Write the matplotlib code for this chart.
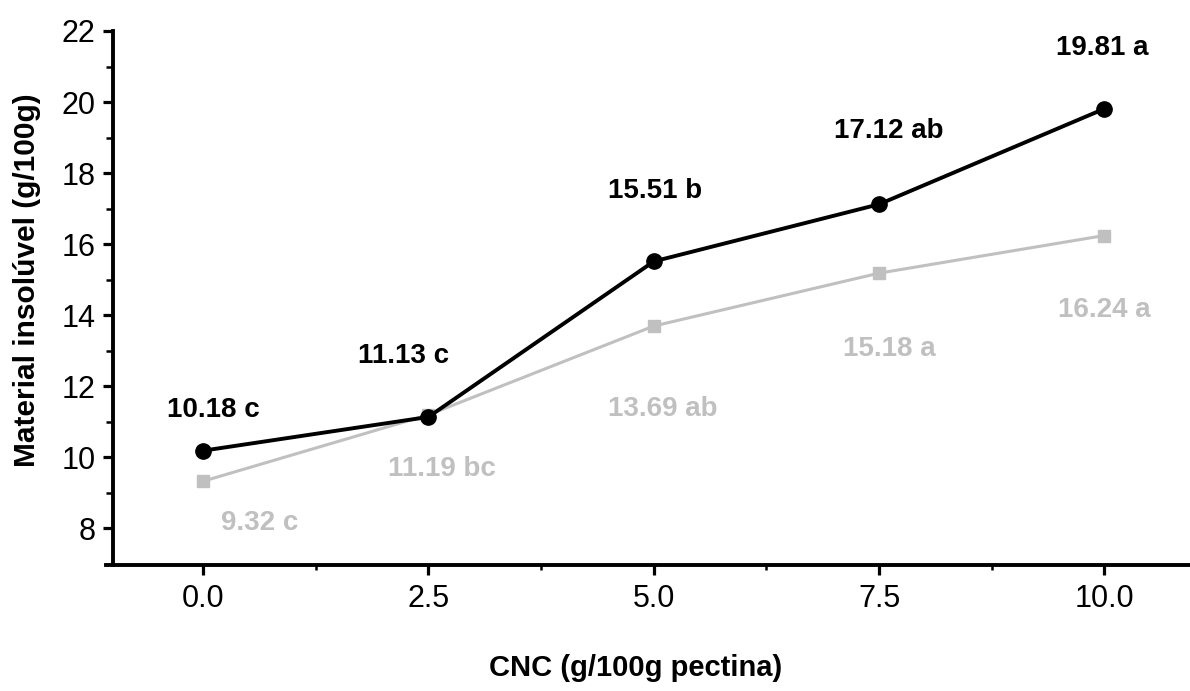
import matplotlib
matplotlib.use("Agg")
import matplotlib.pyplot as plt
from matplotlib.ticker import FixedLocator

plt.rcParams['font.family'] = ['Liberation Sans', 'DejaVu Sans']

# CNC concentration (g/100g pectin)
cnc = [0.0, 2.5, 5.0, 7.5, 10.0]

# Insoluble material (g/100g) for the two series
black_vals = [10.18, 11.13, 15.51, 17.12, 19.81]
black_letters = ["c", "c", "b", "ab", "a"]
gray_vals = [9.32, 11.19, 13.69, 15.18, 16.24]
gray_letters = ["c", "bc", "ab", "a", "a"]

# Label offsets in pixels relative to each point
black_offsets = [(10, 41), (-25, 61), (1, 70), (10, 73), (-2, 61)]
gray_offsets = [(57, -42), (13, -54), (9, -83), (10, -76), (0, -74)]

fig = plt.figure(figsize=(11.9, 6.91), dpi=100)
W, H = 1190, 691
x0, x1 = 106, 1190
y_top, y_bot = 31, 565
ax = fig.add_axes([x0 / W, 1 - y_bot / H, (x1 - x0) / W, (y_bot - y_top) / H])

gray_col = "#c0c0c0"
ax.plot(cnc, gray_vals, color=gray_col, lw=2.2, marker="s", ms=9,
        markeredgecolor=gray_col, zorder=2, clip_on=False)
ax.plot(cnc, black_vals, color="black", lw=2.8, marker="o", ms=11,
        zorder=3, clip_on=False)

for x, v, l, (dx, dy) in zip(cnc, black_vals, black_letters, black_offsets):
    ax.annotate(f"{v:.2f} {l}", (x, v), xytext=(dx, dy),
                textcoords="offset pixels", ha="center", va="center",
                fontsize=20, fontweight="bold", color="black")
for x, v, l, (dx, dy) in zip(cnc, gray_vals, gray_letters, gray_offsets):
    ax.annotate(f"{v:.2f} {l}", (x, v), xytext=(dx, dy),
                textcoords="offset pixels", ha="center", va="center",
                fontsize=20, fontweight="bold", color=gray_col)

# x range: left spine sits 7 px inside the axes at x = -1.0
px_per_x = 90.1
ax.set_xlim(-1.0 - 7 / px_per_x, 10.95)
ax.set_ylim(6.96, 22)
ax.spines["left"].set_position(("data", -1.0))
ax.spines["left"].set_bounds(6.96, 22)

ax.set_xticks(cnc)
ax.set_xticklabels([f"{c:.1f}" for c in cnc])
ax.xaxis.set_minor_locator(FixedLocator([1.25, 3.75, 6.25, 8.75]))
ax.set_yticks(range(8, 23, 2))
ax.yaxis.set_minor_locator(FixedLocator(range(9, 22, 2)))

for side in ("top", "right"):
    ax.spines[side].set_visible(False)
for side in ("left", "bottom"):
    ax.spines[side].set_linewidth(2.8)

ax.tick_params(axis="both", which="major", direction="out", length=7.5,
               width=2.3, labelsize=22)
ax.tick_params(axis="x", which="major", pad=6)
ax.tick_params(axis="y", which="major", pad=5)
ax.tick_params(axis="x", which="minor", direction="out", length=3.5, width=1.8)
ax.tick_params(axis="y", which="minor", direction="out", length=5, width=1.8)

# Axis titles
fig.text(636 / W, 1 - 668 / H, "CNC (g/100g pectina)", fontsize=21,
         fontweight="bold", ha="center", va="center")
fig.text(27 / W, 1 - 280 / H, "Material insolúvel (g/100g)", fontsize=21.5,
         fontweight="bold", ha="center", va="center", rotation=90)

fig.savefig("out.png", dpi=100)
